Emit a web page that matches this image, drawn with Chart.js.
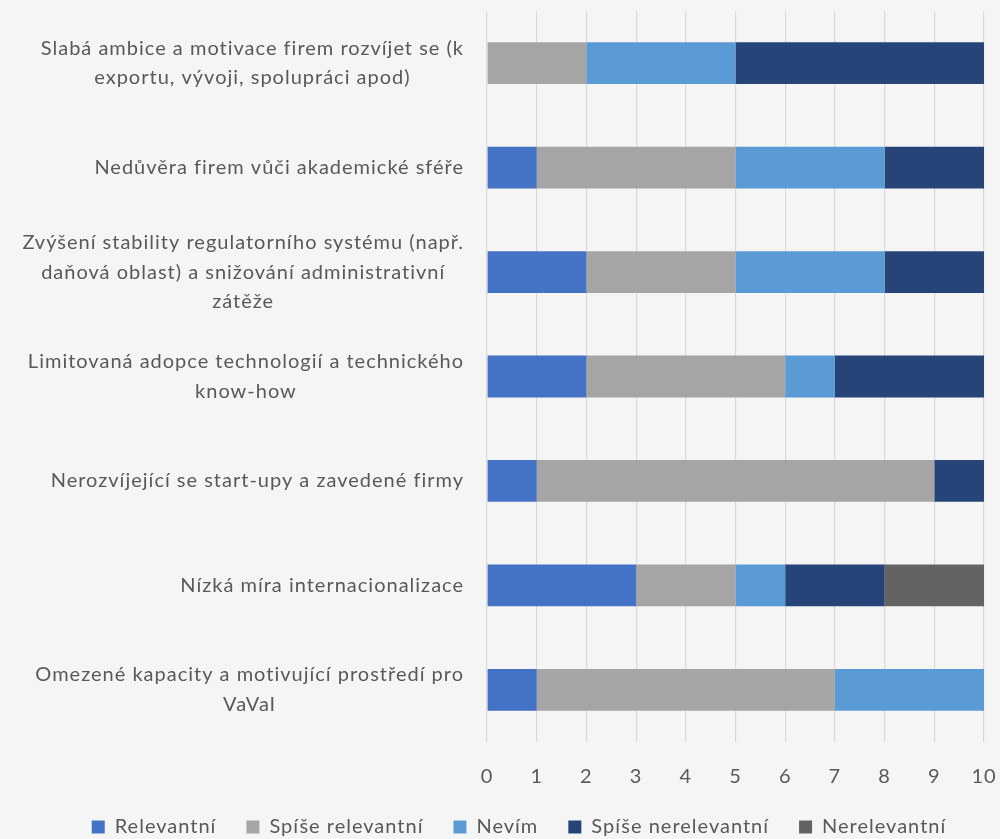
<!DOCTYPE html>
<html>
<head>
<meta charset="utf-8">
<script src="https://cdn.jsdelivr.net/npm/chart.js@4"></script>
<style>
  html, body { margin: 0; padding: 0; background: #F5F5F5; }
  #wrap { width: 1000px; height: 839px; }
</style>
</head>
<body>
<div id="wrap"><canvas id="c" width="1000" height="839"></canvas></div>
<script>
const categories = [
  ["Slabá ambice a motivace firem rozvíjet se (k", "exportu, vývoji, spolupráci apod)"],
  ["Nedůvěra firem vůči akademické sféře"],
  ["Zvýšení stability regulatorního systému (např.", "daňová oblast) a snižování administrativní", "zátěže"],
  ["Limitovaná adopce technologií a technického", "know-how"],
  ["Nerozvíjející se start-upy a zavedené firmy"],
  ["Nízká míra internacionalizace"],
  ["Omezené kapacity a motivující prostředí pro", "VaVaI"]
];
const seriesNames = ["Relevantní", "Spíše relevantní", "Nevím", "Spíše nerelevantní", "Nerelevantní"];
const relevantni        = [0, 1, 2, 2, 1, 3, 1];
const spiseRelevantni   = [2, 4, 3, 4, 8, 2, 6];
const nevim             = [3, 3, 3, 1, 0, 1, 3];
const spiseNerelevantni = [5, 2, 2, 3, 1, 2, 0];
const nerelevantni      = [0, 0, 0, 0, 0, 2, 0];
const xTicks = [0, 1, 2, 3, 4, 5, 6, 7, 8, 9, 10];
const colors = ["#4472C4", "#A5A5A5", "#5B9BD5", "#264478", "#636363"];

const FONT = "Lato, 'Open Sans', sans-serif";
const TEXT = "#595959";
const LS = "1px";
const PAD_LEFT = 38;

const spacingPlugin = {
  id: 'spacing',
  beforeLayout(chart) { chart.ctx.letterSpacing = LS; },
  beforeDraw(chart) { chart.ctx.letterSpacing = LS; }
};

const yLabelPlugin = {
  id: 'yLabels',
  afterDraw(chart) {
    const ctx = chart.ctx;
    const y = chart.scales.y;
    ctx.save();
    ctx.letterSpacing = LS;
    ctx.font = "20px " + FONT;
    ctx.fillStyle = TEXT;
    ctx.textBaseline = 'middle';
    ctx.textAlign = 'center';
    const rightX = chart.chartArea.left - 23;
    const lh = 29.5;
    categories.forEach((lines, i) => {
      const cy = y.getPixelForValue(i);
      const w = Math.max(...lines.map(l => ctx.measureText(l).width));
      const cx = rightX - w / 2;
      const y0 = cy - (lines.length - 1) * lh / 2;
      lines.forEach((l, k) => ctx.fillText(l, cx, y0 + k * lh));
    });
    ctx.restore();
  }
};

const data = {
  labels: categories.map(c => c.join(' ')),
  datasets: [relevantni, spiseRelevantni, nevim, spiseNerelevantni, nerelevantni].map((d, i) => ({
    label: seriesNames[i],
    data: d,
    backgroundColor: colors[i],
    borderWidth: 0,
    categoryPercentage: 1,
    barPercentage: 0.4
  }))
};

new Chart(document.getElementById('c'), {
  type: 'bar',
  data,
  plugins: [spacingPlugin, yLabelPlugin],
  options: {
    indexAxis: 'y',
    responsive: false,
    animation: false,
    layout: { padding: { top: 11, right: 0, left: PAD_LEFT, bottom: -8 } },
    scales: {
      x: {
        stacked: true,
        min: 0, max: 10,
        afterBuildTicks(s) { s.ticks = xTicks.map(v => ({ value: v })); },
        afterFit(s) { s.paddingLeft = 0; s.paddingRight = 16; s.height = s.height - 25; },
        border: { display: false },
        grid: { color: "#D9D9D9", lineWidth: 1.2, drawTicks: false },
        ticks: { color: TEXT, font: { family: FONT, size: 20 }, padding: 23, maxRotation: 0 }
      },
      y: {
        stacked: true,
        border: { display: false },
        grid: { display: false, drawTicks: false },
        ticks: { display: false },
        afterFit(s) { s.width = 487 - PAD_LEFT; }
      }
    },
    plugins: {
      tooltip: { enabled: false },
      legend: {
        position: 'bottom',
        labels: {
          color: TEXT,
          font: { family: FONT, size: 20 },
          boxWidth: 13, boxHeight: 13,
          padding: 30
        }
      }
    }
  }
});
</script>
</body>
</html>
